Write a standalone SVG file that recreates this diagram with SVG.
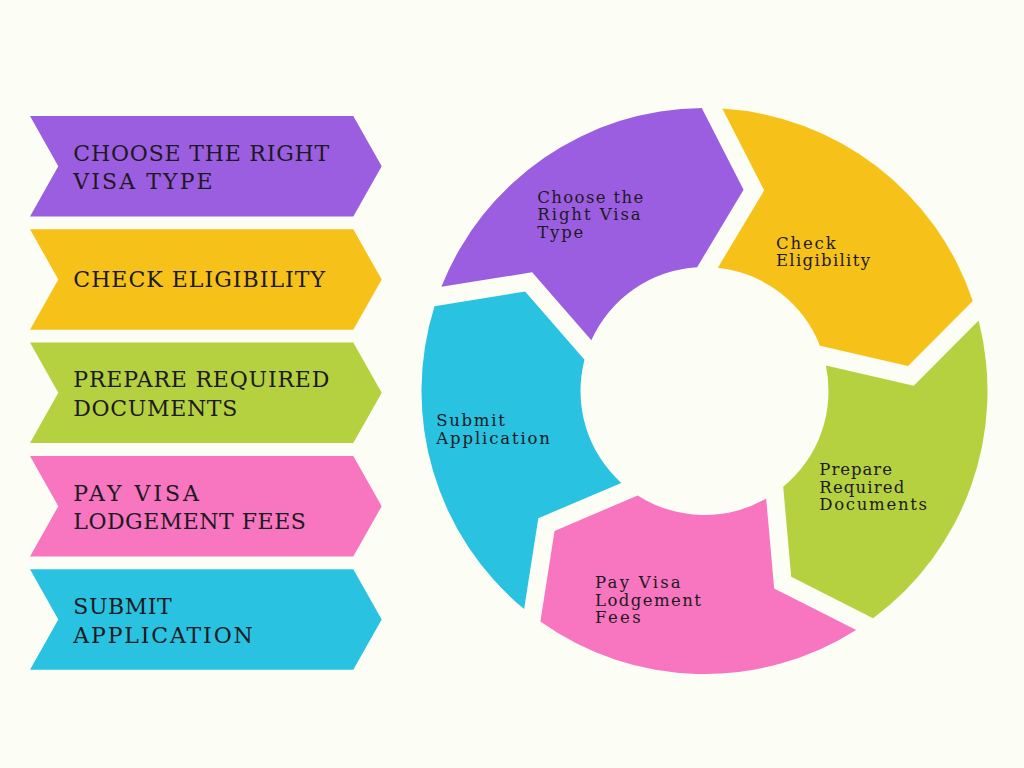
<svg xmlns="http://www.w3.org/2000/svg" xmlns:xlink="http://www.w3.org/1999/xlink" width="1024" height="768" viewBox="0 0 1024 768">
<style>
.bg{fill:#FCFDF5}
.purple{fill:#9C5EE0}
.yellow{fill:#F6C21A}
.green{fill:#B5D13F}
.pink{fill:#F875BF}
.cyan{fill:#29C2E0}
.big{font-family:"DejaVu Serif","Liberation Serif",serif;font-size:22px;fill:#1c1a22}
.small{font-family:"DejaVu Serif","Liberation Serif",serif;font-size:16.5px;fill:#1c1a22}
</style>
<defs>
<path id="chev" d="M30,0 H353.3 L381.7,50.25 L353.3,100.5 H30 L58.3,50.25 Z"/>
<path id="seg" d="M282.81,10.36 A283,283 0 0 1 97.05,265.84 L30.35,202.82 L48.25,114.23 A124,124 0 0 0 123.59,10.10 L202.13,54.39 Z"/>
</defs>
<rect class="bg" x="0" y="0" width="1024" height="768"/>

<g id="step1-choose">
<use xlink:href="#chev" href="#chev" class="purple" transform="translate(0 116)"/>
<text class="big"><tspan x="73.3" y="160.7" textLength="256" lengthAdjust="spacing">CHOOSE THE RIGHT</tspan><tspan x="73.3" y="189.3" textLength="139.3" lengthAdjust="spacing">VISA TYPE</tspan></text>
</g>
<g id="step2-eligibility">
<use xlink:href="#chev" href="#chev" class="yellow" transform="translate(0 229.3)"/>
<text class="big" x="73.3" y="286.7" textLength="251.7" lengthAdjust="spacing">CHECK ELIGIBILITY</text>
</g>
<g id="step3-documents">
<use xlink:href="#chev" href="#chev" class="green" transform="translate(0 342.6)"/>
<text class="big"><tspan x="73.3" y="387.2" textLength="256" lengthAdjust="spacing">PREPARE REQUIRED</tspan><tspan x="73.3" y="415.8" textLength="164" lengthAdjust="spacing">DOCUMENTS</tspan></text>
</g>
<g id="step4-fees">
<use xlink:href="#chev" href="#chev" class="pink" transform="translate(0 455.9)"/>
<text class="big"><tspan x="73.3" y="500.6" textLength="125.5" lengthAdjust="spacing">PAY VISA</tspan><tspan x="73.3" y="529.2" textLength="232.5" lengthAdjust="spacing">LODGEMENT FEES</tspan></text>
</g>
<g id="step5-submit">
<use xlink:href="#chev" href="#chev" class="cyan" transform="translate(0 569.2)"/>
<text class="big"><tspan x="73.3" y="613.9" textLength="98.5" lengthAdjust="spacing">SUBMIT</tspan><tspan x="73.3" y="642.5" textLength="179.5" lengthAdjust="spacing">APPLICATION</tspan></text>
</g>

<g id="cycle-choose">
<use xlink:href="#seg" href="#seg" class="purple" transform="translate(704.5 391) rotate(199.5)"/>
<text class="small"><tspan x="537.3" y="202.5" textLength="106" lengthAdjust="spacing">Choose the</tspan><tspan x="537.3" y="220" textLength="103.4" lengthAdjust="spacing">Right Visa</tspan><tspan x="537.3" y="237.5" textLength="46" lengthAdjust="spacing">Type</tspan></text>
</g>
<g id="cycle-eligibility">
<use xlink:href="#seg" href="#seg" class="yellow" transform="translate(704.5 391) rotate(271.5)"/>
<text class="small"><tspan x="776" y="248.6" textLength="59.7" lengthAdjust="spacing">Check</tspan><tspan x="776" y="266.1" textLength="94" lengthAdjust="spacing">Eligibility</tspan></text>
</g>
<g id="cycle-documents">
<use xlink:href="#seg" href="#seg" class="green" transform="translate(704.5 391) rotate(343.5)"/>
<text class="small"><tspan x="819.3" y="475.2" textLength="72.7" lengthAdjust="spacing">Prepare</tspan><tspan x="819.3" y="492.7" textLength="85" lengthAdjust="spacing">Required</tspan><tspan x="819.3" y="510.2" textLength="107.7" lengthAdjust="spacing">Documents</tspan></text>
</g>
<g id="cycle-fees">
<use xlink:href="#seg" href="#seg" class="pink" transform="translate(704.5 391) rotate(55.5)"/>
<text class="small"><tspan x="595" y="588.2" textLength="85.7" lengthAdjust="spacing">Pay Visa</tspan><tspan x="595" y="605.7" textLength="106" lengthAdjust="spacing">Lodgement</tspan><tspan x="595" y="623.2" textLength="45.7" lengthAdjust="spacing">Fees</tspan></text>
</g>
<g id="cycle-submit">
<use xlink:href="#seg" href="#seg" class="cyan" transform="translate(704.5 391) rotate(127.5)"/>
<text class="small"><tspan x="436.3" y="426.1" textLength="68.5" lengthAdjust="spacing">Submit</tspan><tspan x="436.3" y="443.6" textLength="113.7" lengthAdjust="spacing">Application</tspan></text>
</g>
<g id="connectors"/>
</svg>
